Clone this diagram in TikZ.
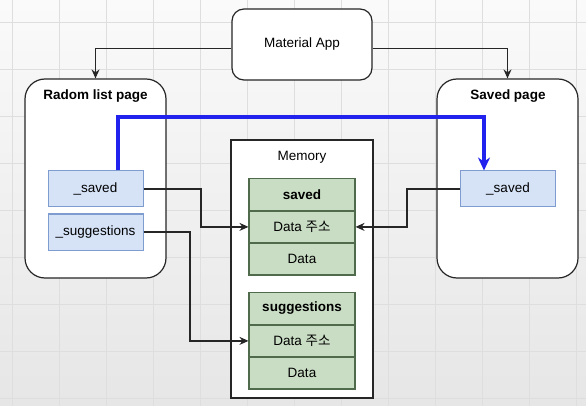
\documentclass[tikz,border=0pt]{standalone}
\usepackage{fontspec}
\setmainfont{Liberation Sans}
\newfontfamily\kr{Noto Sans CJK KR}
\usetikzlibrary{arrows.meta}
\definecolor{bgtop}{HTML}{FAFAFA}
\definecolor{bgbot}{HTML}{E6E6E6}
\definecolor{gridc}{HTML}{DEDEDE}
\definecolor{bluefill}{HTML}{D6E3F7}
\definecolor{blueline}{HTML}{7E9CCF}
\definecolor{greenfill}{HTML}{C9DDC4}
\definecolor{greenline}{HTML}{4F6B4B}
\definecolor{strong}{HTML}{2222EE}
\tikzset{
  base/.style={font=\fontsize{13.5}{16}\selectfont, inner sep=0pt},
  appbox/.style={base, draw=black!85, line width=1.2pt, fill=white, rounded corners=12pt, minimum width=140pt, minimum height=71pt},
  pagebox/.style={base, draw=black!85, line width=1.2pt, fill=white, rounded corners=20pt, minimum width=141pt, minimum height=199pt},
  membox/.style={base, draw=black!85, line width=1.2pt, fill=white, minimum width=142pt, minimum height=258pt},
  varbox/.style={base, draw=blueline, line width=1pt, fill=bluefill, minimum width=95pt, minimum height=36pt},
  rowbox/.style={base, draw=greenline, line width=1.1pt, fill=greenfill, minimum width=106pt, minimum height=31.3pt},
  title/.style={base, font=\fontsize{13.5}{16}\selectfont\bfseries},
  conn/.style={draw=black!85, line width=1.2pt, -{Stealth[length=9pt,width=8pt]}},
  blueconn/.style={draw=strong, line width=3.4pt, -{Stealth[length=13pt,width=12pt]}}
}
\begin{document}
\begin{tikzpicture}[x=1pt,y=-1pt]
\useasboundingbox (0,0) rectangle (586,406);
\shade[top color=bgtop, bottom color=bgbot] (0,0) rectangle (586,406);
\foreach \gx in {12,59,...,586} \draw[gridc, line width=0.8pt] (\gx,0) -- (\gx,406);
\foreach \gy in {22,69,...,406} \draw[gridc, line width=0.8pt] (0,\gy) -- (586,\gy);

\node[appbox] (mat) at (302,44.5) {Material App};
\node[pagebox] (rad) at (95.5,178.5) {};
\node[title] (radt) at (95.5,96.5) {Radom list page};
\node[pagebox] (sav) at (507.5,178.5) {};
\node[title] (savt) at (508,96.5) {Saved page};
\node[membox] (mem) at (302,269) {};
\node[base] (memt) at (302,157.5) {Memory};

\node[rowbox] (a1) at (302,194.5) {\bfseries saved};
\node[rowbox, anchor=north] (a2) at (a1.south) {Data {\kr 주소}};
\node[rowbox, anchor=north] (a3) at (a2.south) {Data};
\node[rowbox] (b1) at (302,308.5) {\bfseries suggestions};
\node[rowbox, anchor=north] (b2) at (b1.south) {Data {\kr 주소}};
\node[rowbox, anchor=north] (b3) at (b2.south) {Data};

\node[varbox] (ls) at (95.5,189) {\_saved};
\node[varbox] (lsug) at (95.5,232) {\_suggestions};
\node[varbox] (rs) at (508,189) {\_saved};

\coordinate (m1) at (96,48.5);
\coordinate (m2) at (508,48.5);
\draw[conn] (mat.west |- m1) -| (rad.north);
\draw[conn] (mat.east |- m2) -| (sav.north);

\coordinate (c1) at (201,189);
\coordinate (c2) at (407,189);
\coordinate (c3) at (190,232);
\draw[conn] (ls.east) -- (c1) |- (a2.west);
\draw[conn] (rs.west) -- (c2) |- (a2.east);
\draw[conn] (lsug.east) -- (c3) |- (b2.west);

\coordinate (bl) at (118,117);
\coordinate (br) at (484,117);
\draw[blueconn, line join=miter] (ls.north -| bl) -- (bl) -- (br) -- (rs.north -| br);
\end{tikzpicture}
\end{document}
